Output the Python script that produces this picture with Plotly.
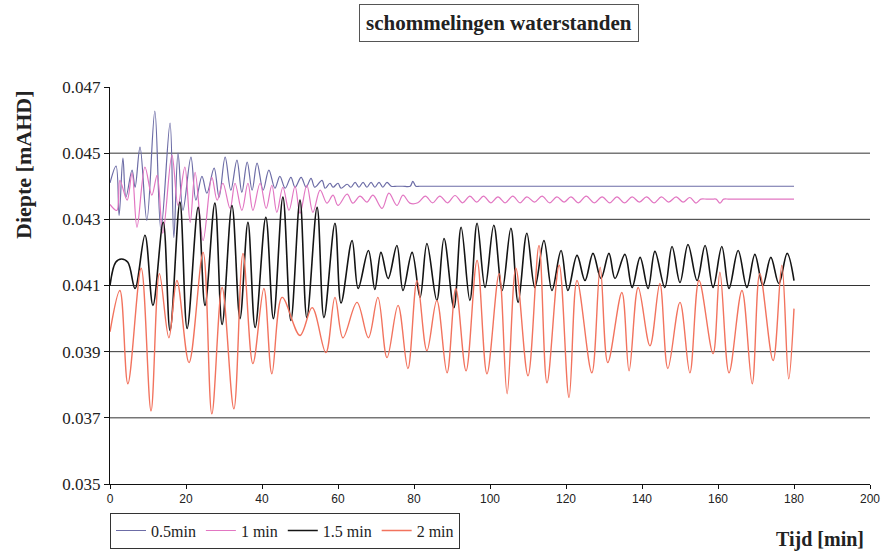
import plotly.graph_objects as go

# Time (min) and water depth (mAHD) for each oscillation period
t_05 = [0, 1.6, 2.4, 3.4, 4.2, 5.8, 6.6, 7.9, 9.7, 11.8,
        13.4, 15.8, 16.8, 17.9, 19.2, 21.3, 22.6, 24.2, 25.5, 27.4,
        28.7, 30.3, 31.8, 33.4, 34.7, 36.1, 37.4, 38.7, 40.3, 41.8,
        43.4, 44.7, 46.1, 47.6, 48.7, 50.3, 51.6, 52.9, 53.9, 55.8,
        56.6, 57.9, 58.7, 60.0, 60.8, 62.4, 63.4, 64.5, 65.5, 66.6,
        67.6, 68.7, 69.7, 70.8, 71.8, 72.9, 74.0, 75.5, 77.0, 79.0,
        79.7, 80.5, 81.5, 90.0, 170.0, 180]
d_05 = [0.0441, 0.04461, 0.04312, 0.04485, 0.04367, 0.04449, 0.04397, 0.04518, 0.04297, 0.04627,
        0.04267, 0.04591, 0.04245, 0.04500, 0.04327, 0.04488, 0.04358, 0.04430, 0.04379, 0.04455,
        0.04367, 0.04488, 0.04388, 0.04479, 0.04382, 0.04473, 0.04388, 0.04470, 0.04388, 0.04449,
        0.04394, 0.04430, 0.04394, 0.04427, 0.04397, 0.04427, 0.04397, 0.04424, 0.04397, 0.04418,
        0.04394, 0.04409, 0.04397, 0.04409, 0.04394, 0.04406, 0.04397, 0.04412, 0.04397, 0.04412,
        0.04397, 0.04412, 0.04397, 0.04412, 0.04397, 0.04412, 0.04400, 0.04400, 0.04400, 0.04400,
        0.04415, 0.04400, 0.04400, 0.04400, 0.04400, 0.04400]

t_1 = [0, 1.8, 2.6, 4.5, 5.8, 7.1, 9.2, 11.0, 12.4, 13.9,
       16.3, 17.9, 19.7, 21.1, 22.4, 24.5, 26.8, 28.2, 29.7, 31.6,
       32.9, 34.7, 36.3, 37.6, 39.5, 41.1, 42.6, 43.9, 45.5, 47.1,
       48.7, 50.0, 51.8, 53.4, 55.3, 57.1, 58.7, 60.0, 62.4, 63.9,
       65.8, 67.6, 69.2, 71.6, 73.4, 75.5, 77.1, 78.9, 81.0, 83.0,
       84.9, 86.8, 88.8, 90.8, 92.8, 94.7, 96.5, 98.3, 100.2, 102.1,
       104.0, 106.0, 107.9, 109.7, 111.7, 113.7, 115.7, 117.6, 119.5, 121.3,
       123.3, 125.3, 127.4, 129.5, 131.5, 133.4, 135.4, 137.4, 139.3, 141.2,
       143.2, 145.1, 147.0, 149.0, 150.8, 152.6, 154.2, 155.5, 157.0, 158.5,
       159.5, 160.5, 161.5, 163.0, 170.0, 180]
d_1 = [0.04345, 0.04327, 0.04418, 0.04358, 0.04440, 0.04276, 0.04458, 0.04373, 0.04433, 0.04258,
       0.04494, 0.04342, 0.04458, 0.04291, 0.04442, 0.04236, 0.04427, 0.04358, 0.04409, 0.04333,
       0.04409, 0.04327, 0.04409, 0.04327, 0.04409, 0.04333, 0.04403, 0.04321, 0.04397, 0.04327,
       0.04400, 0.04318, 0.04403, 0.04321, 0.04388, 0.04349, 0.04373, 0.04342, 0.04376, 0.04349,
       0.04370, 0.04352, 0.04373, 0.04333, 0.04379, 0.04342, 0.04373, 0.04349, 0.04350, 0.04370,
       0.04350, 0.04370, 0.04350, 0.04372, 0.04350, 0.04370, 0.04352, 0.04370, 0.04350, 0.04368,
       0.04350, 0.04370, 0.04350, 0.04368, 0.04352, 0.04370, 0.04350, 0.04368, 0.04352, 0.04368,
       0.04350, 0.04370, 0.04350, 0.04368, 0.04350, 0.04368, 0.04350, 0.04368, 0.04352, 0.04368,
       0.04350, 0.04368, 0.04352, 0.04368, 0.04352, 0.04366, 0.04349, 0.04361, 0.04361, 0.04361,
       0.04361, 0.04349, 0.04361, 0.04361, 0.04361, 0.04361]

t_15 = [0, 1.5, 3.0, 4.7, 6.6, 9.2, 11.3, 14.0, 15.8, 18.4,
        20.3, 23.2, 25.0, 27.6, 29.5, 32.1, 34.2, 36.3, 38.2, 41.0,
        43.0, 45.5, 47.6, 50.0, 51.8, 54.5, 56.3, 59.2, 60.8, 63.7,
        65.3, 68.0, 69.7, 71.3, 73.2, 75.5, 77.1, 79.5, 81.6, 83.4,
        86.0, 87.9, 90.5, 92.4, 94.7, 96.6, 98.7, 101.0, 103.2, 105.5,
        107.4, 109.7, 111.8, 114.2, 116.3, 118.7, 120.5, 122.9, 125.0, 127.1,
        129.2, 131.3, 132.9, 135.5, 137.4, 139.5, 141.6, 143.4, 146.0, 147.9,
        150.0, 152.1, 154.5, 156.6, 158.7, 161.0, 162.9, 165.3, 167.6, 169.7,
        171.8, 173.9, 176.0, 178.2, 180.0]
d_15 = [0.04100, 0.04170, 0.04180, 0.04170, 0.04091, 0.04252, 0.04040, 0.04291, 0.03964, 0.04352,
        0.03970, 0.04336, 0.04040, 0.04349, 0.03982, 0.04342, 0.04000, 0.04291, 0.03973, 0.04306,
        0.04000, 0.04367, 0.03994, 0.04358, 0.04003, 0.04336, 0.04003, 0.04288, 0.04047, 0.04236,
        0.04091, 0.04206, 0.04088, 0.04200, 0.04121, 0.04221, 0.04085, 0.04200, 0.04064, 0.04227,
        0.04055, 0.04242, 0.04033, 0.04276, 0.04055, 0.04288, 0.04094, 0.04282, 0.04085, 0.04273,
        0.04049, 0.04258, 0.04094, 0.04236, 0.04085, 0.04206, 0.04085, 0.04191, 0.04115, 0.04197,
        0.04121, 0.04197, 0.04121, 0.04194, 0.04094, 0.04185, 0.04091, 0.04203, 0.04094, 0.04218,
        0.04109, 0.04224, 0.04115, 0.04221, 0.04094, 0.04218, 0.04091, 0.04206, 0.04094, 0.04194,
        0.04100, 0.04185, 0.04106, 0.04197, 0.04115]

t_2 = [0, 2.6, 4.7, 8.2, 10.8, 13.0, 15.5, 17.6, 20.8, 24.5,
       26.8, 29.5, 32.6, 35.0, 37.6, 40.5, 42.6, 45.3, 50.0, 53.2,
       56.8, 59.2, 61.3, 65.0, 68.0, 70.5, 72.9, 75.8, 78.4, 80.8,
       83.4, 86.0, 88.7, 91.0, 93.7, 96.6, 99.2, 102.4, 104.5, 106.8,
       110.0, 112.9, 115.0, 118.2, 120.8, 122.9, 126.8, 129.0, 131.0, 134.7,
       136.6, 139.0, 142.1, 144.7, 146.8, 150.0, 152.6, 155.0, 158.7, 160.5,
       162.9, 166.3, 169.0, 171.0, 174.5, 176.8, 178.6, 180.0]
d_2 = [0.03960, 0.04085, 0.03803, 0.04152, 0.03721, 0.04136, 0.03942, 0.04115, 0.03867, 0.04200,
       0.03712, 0.04094, 0.03727, 0.04197, 0.03864, 0.04091, 0.03833, 0.04064, 0.03949, 0.04033,
       0.03897, 0.04064, 0.03942, 0.04049, 0.03942, 0.04064, 0.03882, 0.04040, 0.03849, 0.04115,
       0.03903, 0.04055, 0.03836, 0.04091, 0.03842, 0.04176, 0.03833, 0.04136, 0.03773, 0.04152,
       0.03827, 0.04221, 0.03806, 0.04161, 0.03761, 0.04115, 0.03836, 0.04155, 0.03867, 0.04079,
       0.03842, 0.04094, 0.03918, 0.04106, 0.03849, 0.04049, 0.03836, 0.04115, 0.03894, 0.04140,
       0.03836, 0.04085, 0.03803, 0.04136, 0.03873, 0.04161, 0.03818, 0.04030]

series_names = ["0.5min", "1 min", "1.5 min", "2 min"]
series_t = [t_05, t_1, t_15, t_2]
series_d = [d_05, d_1, d_15, d_2]
series_colors = ["#6c6ca6", "#e276c2", "#141414", "#f2735e"]
series_widths = [1.2, 1.2, 1.6, 1.4]

y_ticks = [0.035, 0.037, 0.039, 0.041, 0.043, 0.045, 0.047]
x_ticks = [0, 20, 40, 60, 80, 100, 120, 140, 160, 180, 200]

SERIF = "Liberation Serif"
SANS = "Liberation Sans"

fig = go.Figure()
for name, t, d, c, w in zip(series_names, series_t, series_d, series_colors, series_widths):
    fig.add_trace(go.Scatter(
        x=t, y=d, name=name, mode="lines",
        line=dict(color=c, width=w, shape="spline", smoothing=1.0),
    ))

# horizontal reference lines at the inner ticks
for yv in y_ticks[1:-1]:
    fig.add_shape(type="line", xref="x", yref="y", x0=0, x1=200, y0=yv, y1=yv,
                  line=dict(color="#333333", width=1), layer="below")

fig.update_layout(
    width=883, height=553,
    margin=dict(l=110, r=13, t=87, b=69, autoexpand=False),
    paper_bgcolor="white", plot_bgcolor="white",
    showlegend=True,
    legend=dict(
        orientation="h", xref="paper", x=0, xanchor="left",
        yref="container", y=0.008, yanchor="bottom",
        bordercolor="#333333", borderwidth=1,
        font=dict(family=SERIF, size=16, color="#222222"),
        itemwidth=30, tracegroupgap=0,
    ),
    xaxis=dict(
        range=[0, 200], tickvals=x_ticks, showgrid=False, zeroline=False,
        showline=True, linecolor="#111111", linewidth=1, automargin=False,
        ticks="outside", ticklen=4, tickcolor="#111111",
        tickfont=dict(family=SANS, size=12, color="#222222"),
    ),
    yaxis=dict(
        range=[0.035, 0.047], tickvals=y_ticks, tickformat=".3f",
        showgrid=False, zeroline=False, automargin=False,
        showline=True, linecolor="#111111", linewidth=1,
        ticks="outside", ticklen=5, tickcolor="#111111",
        tickfont=dict(family=SERIF, size=17, color="#222222"),
    ),
    annotations=[
        dict(text="schommelingen waterstanden", xref="paper", yref="paper",
             x=0.512, y=1.160, xanchor="center", yanchor="middle", showarrow=False,
             font=dict(family=SERIF, size=21, color="#222222", weight="bold"),
             bordercolor="#555555", borderwidth=1, borderpad=6),
        dict(text="Diepte [mAHD]", xref="paper", yref="paper",
             x=-0.1145, y=0.8035, xanchor="center", yanchor="middle", showarrow=False,
             textangle=-90,
             font=dict(family=SERIF, size=22, color="#222222", weight="bold")),
        dict(text="Tijd [min]", xref="paper", yref="paper",
             x=0.934, y=-0.141, xanchor="center", yanchor="middle", showarrow=False,
             font=dict(family=SERIF, size=20, color="#222222", weight="bold")),
    ],
)

fig.write_html("out.html")
